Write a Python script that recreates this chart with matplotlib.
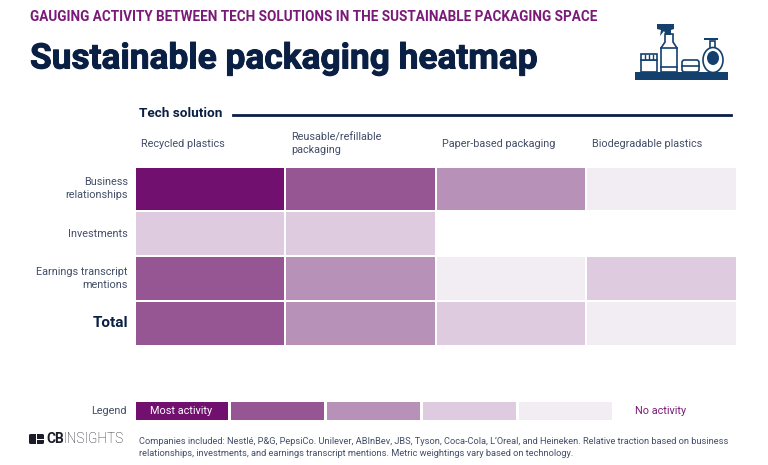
import numpy as np
import matplotlib
matplotlib.use('Agg')
import matplotlib.pyplot as plt
import matplotlib.patheffects as pe
from matplotlib.colors import ListedColormap
from matplotlib.patches import Rectangle, Ellipse, FancyBboxPatch, Polygon

tech = ['Recycled plastics', 'Reusable/refillable\npackaging', 'Paper-based packaging', 'Biodegradable plastics']
metrics = ['Business\nrelationships', 'Investments', 'Earnings transcript\nmentions', 'Total']
# activity level 0-4, nan = blank cell
business = [4, 3, 2, 0]
investments = [1, 1, np.nan, np.nan]
earnings = [3, 2, 0, 1]
total = [3, 2, 1, 0]
legend_levels = [4, 3, 2, 1, 0]
colors = ['#f2ecf3', '#decbdf', '#b891b9', '#965693', '#72106f']

navy = '#0a1f44'
text_col = '#434e68'
purple = '#7a1a78'

plt.rcParams['font.family'] = ['Roboto', 'DejaVu Sans']

cmap = ListedColormap(colors)
fig = plt.figure(figsize=(7.68, 4.65), dpi=100, facecolor='white')
W, H = 768, 465


def px_axes(x0, y0, x1, y1):
    return fig.add_axes([x0 / W, 1 - y1 / H, (x1 - x0) / W, (y1 - y0) / H])


# canvas in pixel coordinates for headers and decoration
bg = fig.add_axes([0, 0, 1, 1])
bg.set_xlim(0, W)
bg.set_ylim(H, 0)
bg.axis('off')

bg.text(30, 17, 'GAUGING ACTIVITY BETWEEN TECH SOLUTIONS IN THE SUSTAINABLE PACKAGING SPACE',
        fontweight='bold', fontsize=9.75, color=purple, va='center')
title = bg.text(30, 59, 'Sustainable packaging heatmap', fontweight='bold',
                fontsize=25.4, color=navy, va='center')
title.set_path_effects([pe.withStroke(linewidth=0.7, foreground=navy)])

bg.text(139, 113, 'Tech solution', fontweight='bold', fontsize=9.7, color=navy, va='center')
bg.plot([233, 731], [115, 115], color=navy, lw=2)

# heatmap
grid = np.array([business, investments, earnings, total], dtype=float)
ax = px_axes(134.5, 166.5, 736.5, 345.5)
ax.pcolormesh(grid, cmap=cmap, vmin=-0.5, vmax=4.5, edgecolors='white', linewidth=1.4)
ax.set_ylim(len(metrics), 0)
ax.set_xlim(0, len(tech))
ax.axis('off')

col_w = 602 / 4
for i, name in enumerate(tech):
    bg.text(141 + i * col_w, 144, name, fontsize=7.85, color=text_col,
            va='center', linespacing=1.35)

row_h = 179 / 4
for j, name in enumerate(metrics):
    y = 166.5 + (j + 0.5) * row_h
    if name == 'Total':
        bg.text(128, y, name, fontsize=11, fontweight='bold', color=navy, ha='right', va='center')
    else:
        bg.text(128, y, name, fontsize=7.85, color=text_col, ha='right', va='center',
                multialignment='right', linespacing=1.35)

# legend strip
lax = px_axes(133.5, 400, 613, 421)
lax.pcolormesh(np.array([legend_levels], dtype=float), cmap=cmap, vmin=-0.5, vmax=4.5,
               edgecolors='white', linewidth=1.0)
lax.set_xlim(0, len(legend_levels))
lax.axis('off')
lax.text(0.5, 0.5, 'Most activity', fontsize=7.85, color='white', ha='center', va='center')
bg.text(127, 410.5, 'Legend', fontsize=7.85, color=text_col, ha='right', va='center')
bg.text(661, 410.5, 'No activity', fontsize=7.85, color=purple, ha='center', va='center')

# footer
bg.add_patch(FancyBboxPatch((29, 434), 15, 10, boxstyle='round,pad=0,rounding_size=1.5', fc='#1c1c28', ec='none'))
bg.add_patch(Rectangle((36, 434), 1, 10, fc='white', ec='none'))
bg.add_patch(Rectangle((37, 438.5), 7, 1, fc='white', ec='none'))
bg.text(46, 439, 'CB', fontsize=9.8, fontweight='bold', color='#1c1c28', va='center')
bg.text(63, 439, 'INSIGHTS', fontsize=9.8, fontweight='light', color='#1c1c28', va='center')
bg.text(139, 441, 'Companies included: Nestlé, P&G, PepsiCo. Unilever, ABInBev, JBS, Tyson, Coca-Cola, L’Oreal, and Heineken. Relative traction based on business',
        fontsize=6.68, color=text_col, va='center')
bg.text(139, 453.5, 'relationships, investments, and earnings transcript mentions. Metric weightings vary based on technology.',
        fontsize=6.68, color=text_col, va='center')

# shelf icon
ic = '#14406e'
bg.add_patch(Rectangle((635, 72), 93, 8, fc=ic, ec='none'))
bg.add_patch(Rectangle((641, 60), 16, 12, fc='white', ec=ic, lw=1.2))
bg.add_patch(Rectangle((641, 54), 16, 6, fc='white', ec=ic, lw=1.2))
for xs in [645, 649, 653]:
    bg.plot([xs, xs], [55, 59], color=ic, lw=1)
bg.add_patch(Polygon([[661, 72], [661, 48], [665, 42], [665, 34], [673, 34], [673, 42], [677, 48], [677, 72]],
                     fc='white', ec=ic, lw=1.2))
bg.add_patch(Polygon([[657, 24], [674, 24], [674, 29], [671, 30], [671, 35], [666, 35], [664, 31], [660, 36], [661, 30], [657, 29]],
                     fc=ic, ec='none'))
bg.plot([661, 677], [67, 67], color=ic, lw=1.2)
bg.plot([661, 677], [48, 48], color=ic, lw=1.2)
bg.add_patch(FancyBboxPatch((682, 60), 17, 12, boxstyle='round,pad=0,rounding_size=2.5', fc='white', ec=ic, lw=1.2))
bg.plot([682, 699], [66, 66], color=ic, lw=1.2)
bg.add_patch(Rectangle((710, 41), 5, 8, fc='white', ec=ic, lw=1.2))
bg.add_patch(Ellipse((713, 60), 20, 25, fc='white', ec=ic, lw=1.2))
bg.add_patch(Ellipse((713, 58), 12, 14, fc=ic, ec='none'))
bg.add_patch(Rectangle((704, 38), 14, 2.5, fc=ic, ec='none'))

fig.savefig('out.png', dpi=100)
